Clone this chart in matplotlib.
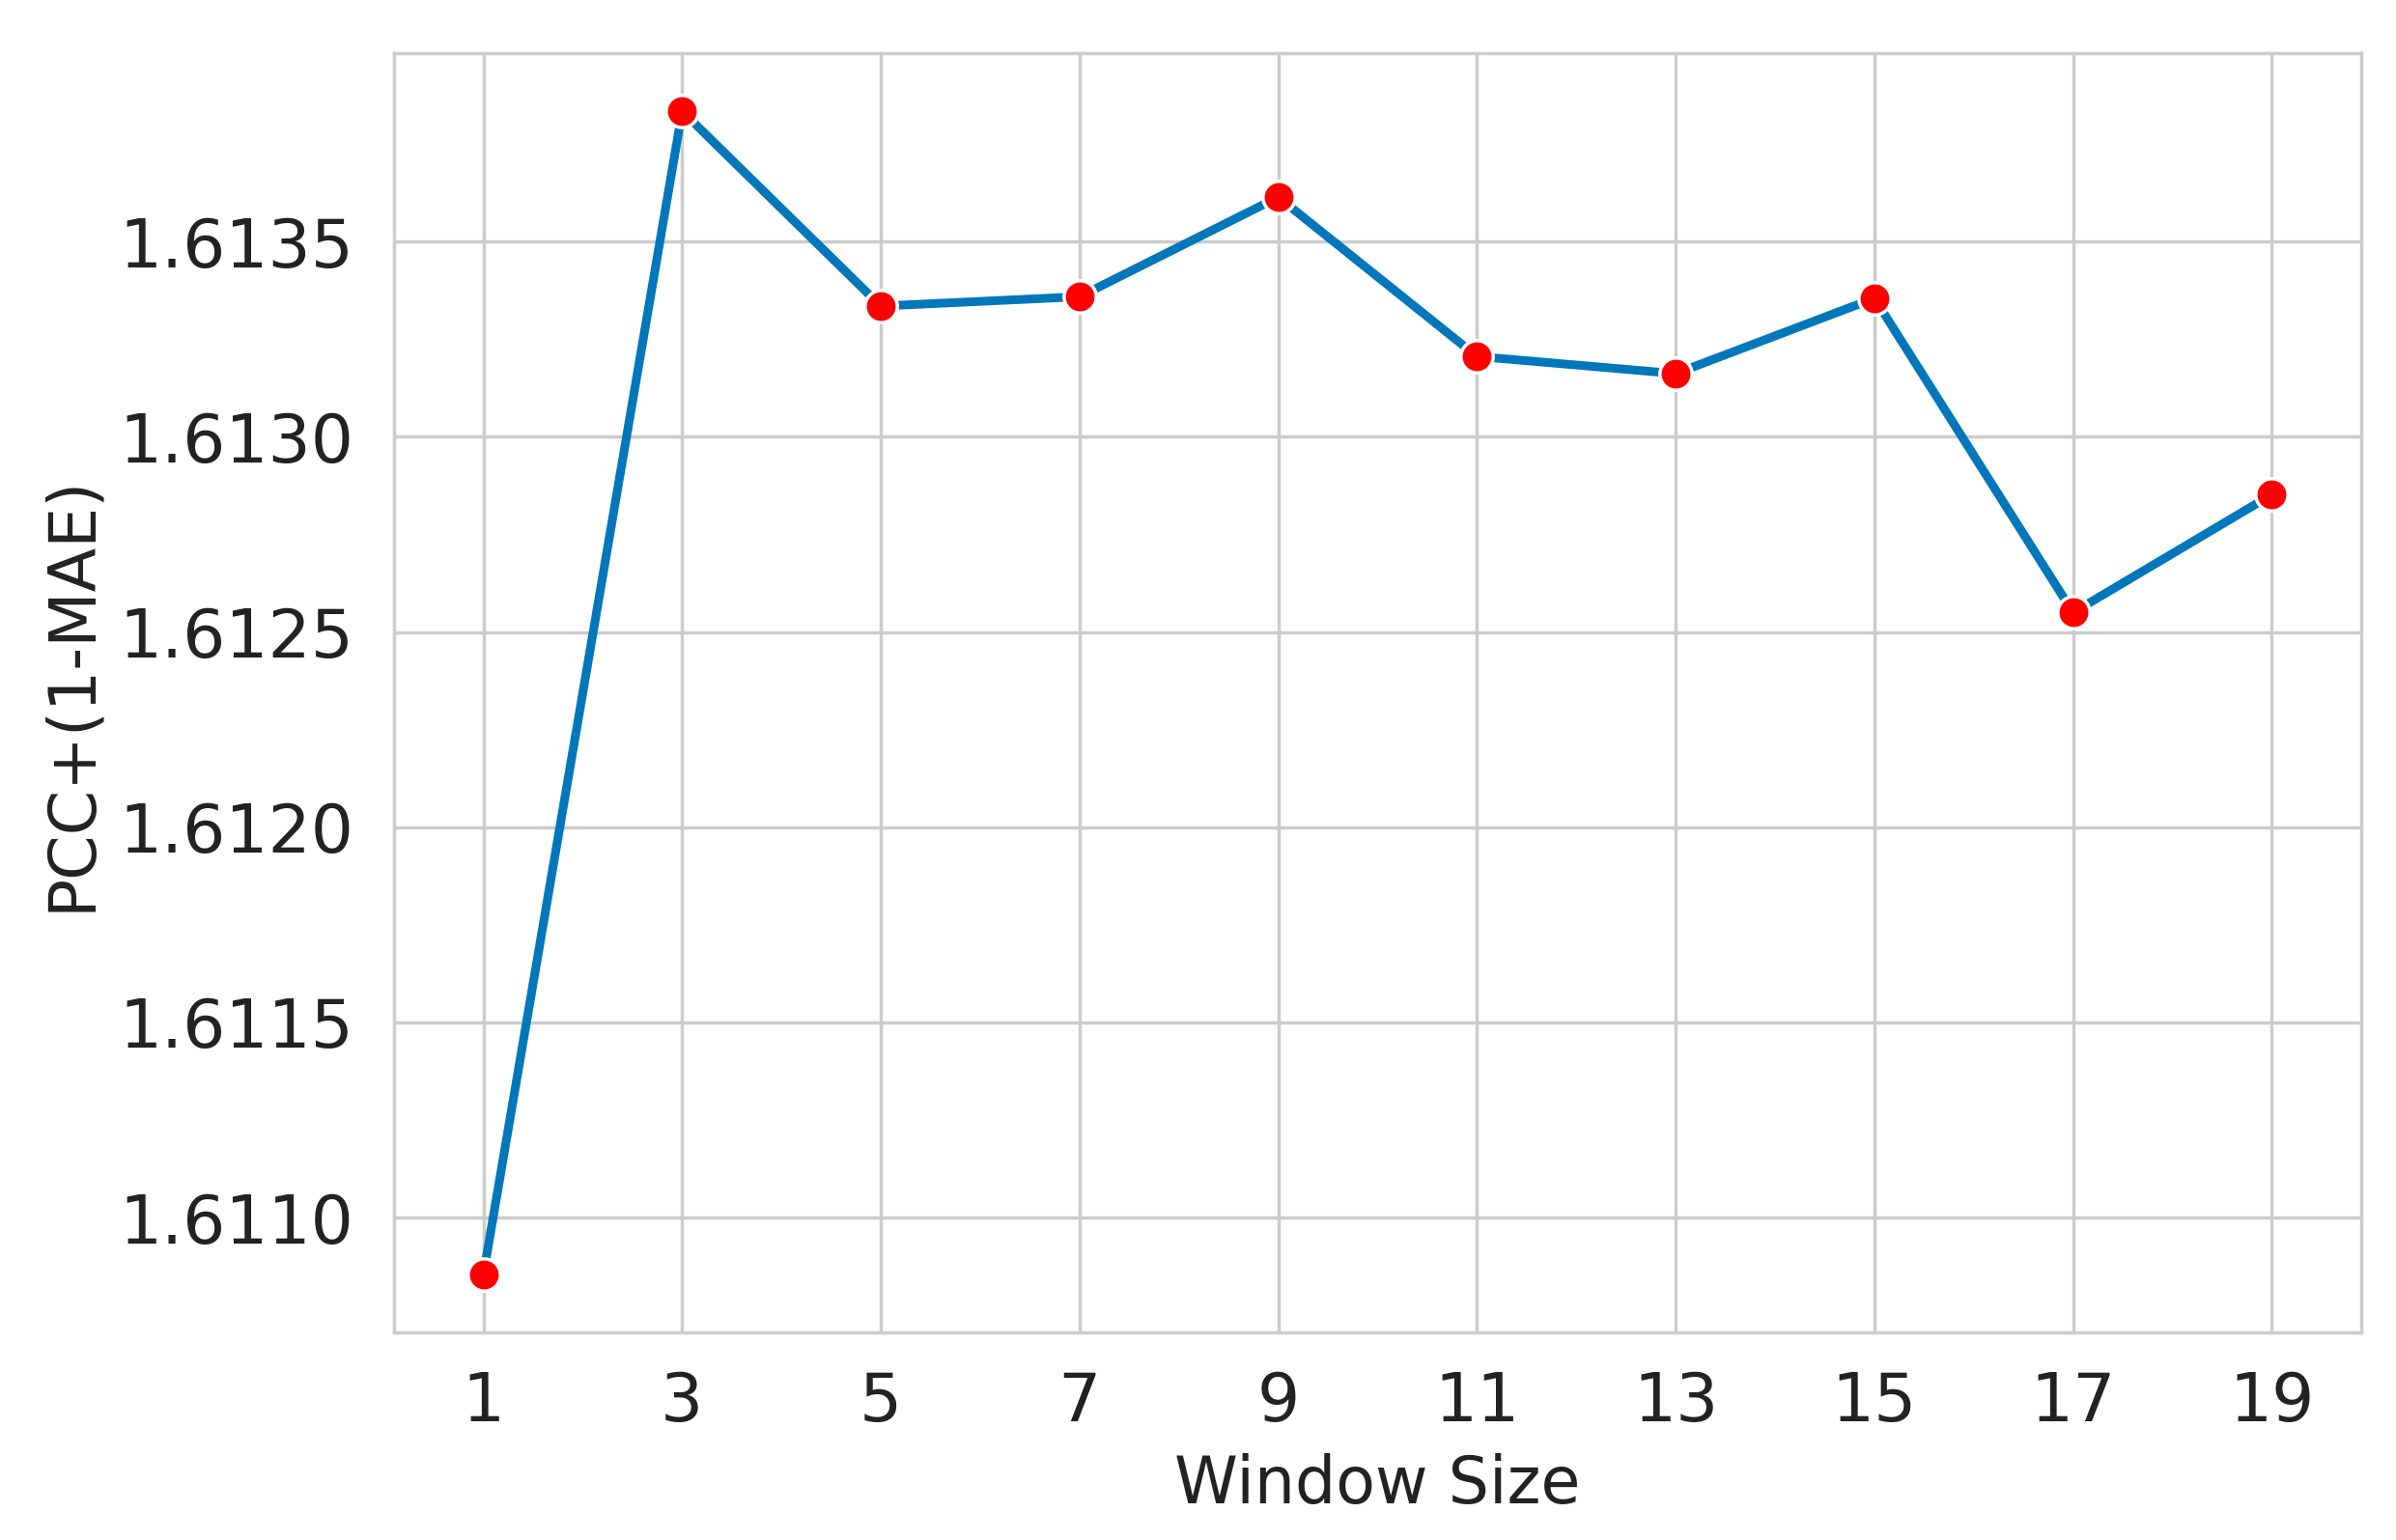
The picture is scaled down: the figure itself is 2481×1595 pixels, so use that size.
import matplotlib
matplotlib.use('Agg')
import matplotlib.pyplot as plt
import seaborn as sns

window = [1, 3, 5, 7, 9, 11, 13, 15, 17, 19]
score = [1.610855, 1.613834, 1.613335, 1.613359, 1.613614,
         1.613206, 1.613162, 1.613355, 1.612550, 1.612852]

sns.set_style('whitegrid')
plt.rcParams['font.family'] = ['DejaVu Sans']

fig = plt.figure(figsize=(24.81, 15.95), dpi=100)
ax = fig.add_axes([408 / 2481, 1 - 1380 / 1595, (2445 - 408) / 2481, (1380 - 55) / 1595])

ax.plot(window, score, color='#0077bb', linewidth=6.5, marker='o',
        markersize=24, markerfacecolor='red', markeredgecolor='white',
        markeredgewidth=2.5)

ax.set_xticks(window)
ax.tick_params(axis='both', labelsize=50, colors='#222222', length=0)
ax.tick_params(axis='x', pad=28)
ax.tick_params(axis='y', pad=30)
ax.set_xlabel('Window Size', fontsize=48, color='#222222', labelpad=14)
ax.set_ylabel('PCC+(1-MAE)', fontsize=48, color='#222222', labelpad=12)
ax.yaxis.set_major_formatter(matplotlib.ticker.FormatStrFormatter('%.4f'))
for s in ax.spines.values():
    s.set_color('#cccccc')
    s.set_linewidth(2.5)
ax.grid(color='#cccccc', linewidth=2.5)

fig.savefig('out.png', dpi=100)
